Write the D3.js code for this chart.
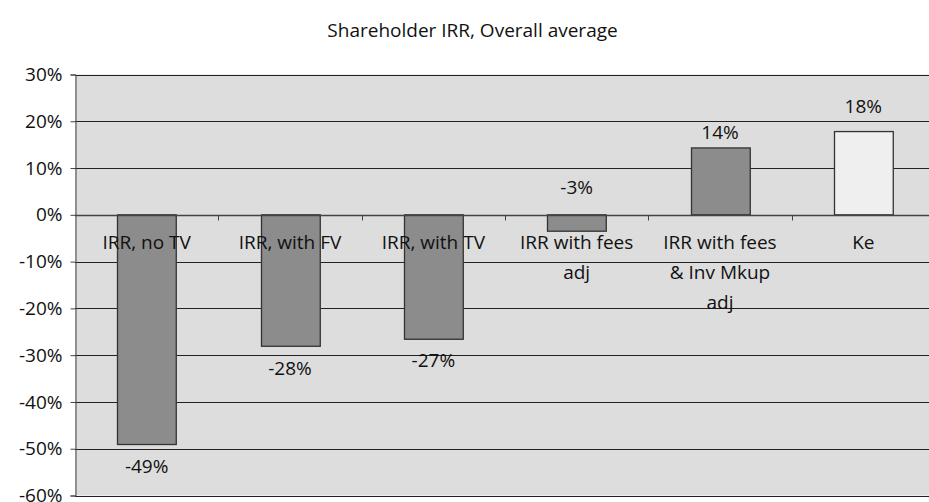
<!DOCTYPE html>
<html>
<head>
<meta charset="utf-8">
<script src="https://cdn.jsdelivr.net/npm/d3@7"></script>
<style>
  body { margin: 0; background: #ffffff; }
  text { font-family: "Open Sans", "Noto Sans", sans-serif; fill: #111; }
</style>
</head>
<body>
<script>
// chart data
var categories = ["IRR, no TV", "IRR, with FV", "IRR, with TV", "IRR with fees adj", "IRR with fees & Inv Mkup adj", "Ke"];
var categoryLines = [["IRR, no TV"], ["IRR, with FV"], ["IRR, with TV"], ["IRR with fees", "adj"], ["IRR with fees", "& Inv Mkup", "adj"], ["Ke"]];
var values = [-49.1, -28.1, -26.6, -3.5, 14.3, 17.8];
var valueLabels = ["-49%", "-28%", "-27%", "-3%", "14%", "18%"];
var yTicks = [30, 20, 10, 0, -10, -20, -30, -40, -50, -60];

// label offsets (px from bar end, center of text)
var labelDy = [22, 22, 21, -44, -16, -25];

var W = 929, H = 502;
var MARGIN = { LEFT: 75, TOP: 74.5, RIGHT: 929 - 935, BOTTOM: 502 - 495.5 };

var svg = d3.select("body").append("svg").attr("width", W).attr("height", H);

var xScale = d3.scaleBand()
	.domain(categories)
	.range([MARGIN.LEFT, W - MARGIN.RIGHT])
	.paddingInner(0.59)
	.paddingOuter(0.295);
var yScale = d3.scaleLinear()
	.domain([-60, 30])
	.range([H - MARGIN.BOTTOM, MARGIN.TOP]);

// plot background
svg.append("rect")
	.attr("x", MARGIN.LEFT)
	.attr("y", MARGIN.TOP)
	.attr("width", W - MARGIN.RIGHT - MARGIN.LEFT)
	.attr("height", H - MARGIN.BOTTOM - MARGIN.TOP)
	.attr("fill", "#dddddd");

// gridlines
svg.append("g").selectAll("line")
	.data(yTicks)
	.enter()
	.append("line")
	.attr("x1", MARGIN.LEFT)
	.attr("x2", W - MARGIN.RIGHT)
	.attr("y1", function (d) { return Math.round(yScale(d)) + 0.5; })
	.attr("y2", function (d) { return Math.round(yScale(d)) + 0.5; })
	.attr("stroke", "#222")
	.attr("stroke-width", 1);

// left axis
var axisLeft = d3.axisLeft(yScale)
	.tickValues(yTicks)
	.tickSize(5)
	.tickPadding(8)
	.tickFormat(function (d) { return d + "%"; });
var gy = svg.append("g")
	.attr("class", "yaxis")
	.attr("transform", "translate(" + (MARGIN.LEFT + 0.5) + ",0)")
	.call(axisLeft);
gy.select(".domain").attr("stroke", "#444");
gy.selectAll(".tick line").attr("stroke", "#444");
gy.selectAll("text")
	.attr("font-family", "'Open Sans', 'Noto Sans', sans-serif")
	.attr("font-size", 19)
	.attr("fill", "#111");

// bars
svg.append("g").selectAll("rect")
	.data(values)
	.enter()
	.append("rect")
	.attr("x", function (d, i) { return Math.round(xScale(categories[i])) + 0.5; })
	.attr("y", function (d) { return yScale(Math.max(0, d)); })
	.attr("width", xScale.bandwidth())
	.attr("height", function (d) { return Math.abs(yScale(d) - yScale(0)); })
	.attr("fill", function (d, i) { return i == 5 ? "#efefef" : "#8c8c8c"; })
	.attr("stroke", "#333")
	.attr("stroke-width", 1.3);

// zero axis line with category ticks
var y0 = Math.round(yScale(0)) + 0.5;
svg.append("line")
	.attr("x1", MARGIN.LEFT).attr("x2", W - MARGIN.RIGHT)
	.attr("y1", y0).attr("y2", y0)
	.attr("stroke", "#444").attr("stroke-width", 1.3);
svg.append("g").selectAll("line")
	.data(categories.slice(1))
	.enter()
	.append("line")
	.attr("x1", function (d) { return Math.round(xScale(d) - xScale.step() * xScale.paddingInner() / 2) + 0.5; })
	.attr("x2", function (d) { return Math.round(xScale(d) - xScale.step() * xScale.paddingInner() / 2) + 0.5; })
	.attr("y1", y0).attr("y2", y0 + 5)
	.attr("stroke", "#444");

// category labels
var catG = svg.append("g");
categoryLines.forEach(function (lines, i) {
	var cx = xScale(categories[i]) + xScale.bandwidth() / 2;
	lines.forEach(function (t, j) {
		catG.append("text")
			.attr("x", cx)
			.attr("y", y0 + 27 + j * 29.8)
			.attr("dy", "0.35em")
			.attr("text-anchor", "middle")
			.attr("font-size", 19)
			.text(t);
	});
});

// value labels
svg.append("g").selectAll("text")
	.data(values)
	.enter()
	.append("text")
	.attr("x", function (d, i) { return xScale(categories[i]) + xScale.bandwidth() / 2; })
	.attr("y", function (d, i) { return yScale(d) + labelDy[i]; })
	.attr("dy", "0.35em")
	.attr("text-anchor", "middle")
	.attr("font-size", 19)
	.text(function (d, i) { return valueLabels[i]; });

// title
svg.append("text")
	.attr("x", 472.5)
	.attr("y", 30)
	.attr("dy", "0.35em")
	.attr("text-anchor", "middle")
	.attr("font-size", 19)
	.text("Shareholder IRR, Overall average");
</script>
</body>
</html>
